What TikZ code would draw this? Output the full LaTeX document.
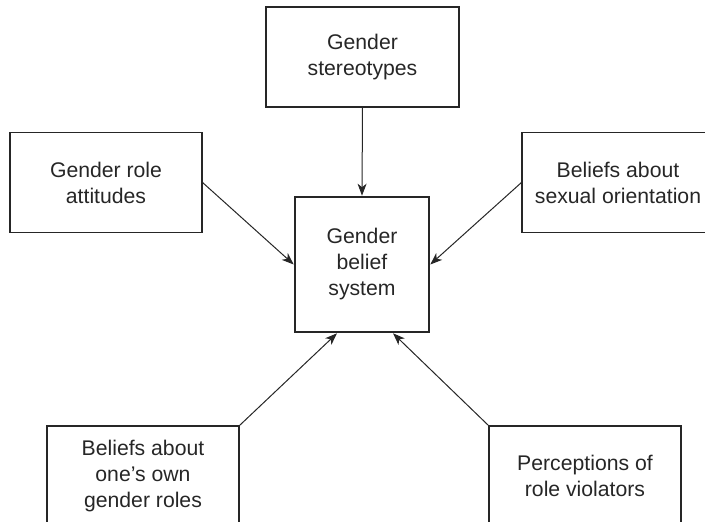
\documentclass[tikz,border=0pt]{standalone}
\usepackage{fontspec}
\setmainfont{Liberation Sans}
\usetikzlibrary{arrows.meta,calc}

\definecolor{ink}{HTML}{262626}

\tikzset{
  factor/.style={draw=ink, line width=1.1pt, minimum width=192pt, minimum height=100pt,
    align=center, text=ink, inner sep=0pt,
    font=\fontsize{21.2pt}{26pt}\selectfont},
  core/.style={factor, line width=2.6pt, minimum width=134pt, minimum height=135pt},
  link/.style={draw=ink, line width=1pt,
    -{Stealth[length=12pt,width=9pt,inset=3.5pt]}}
}

\begin{document}
\begin{tikzpicture}[x=1pt,y=-1pt]
  \useasboundingbox (0,0) rectangle (705,522);
  \clip (0,0) rectangle (705,522);

  % central construct
  \node[core] (belief) at (362,264.5) {Gender\\belief\\system};

  % surrounding components
  \node[factor, minimum width=193pt] (stereo) at (362.5,57) {Gender\\stereotypes};
  \node[factor] (attit) at (106,182.5) {Gender role\\attitudes};
  \node[factor] (sexor) at (618,182.5) {Beliefs about\\sexual orientation};
  \node[factor] (own) at (143,476) {Beliefs about\\one’s own\\gender roles};
  \node[factor] (viol) at (585,476) {Perceptions of\\role violators};

  % arrow targets on the lower edge of the central box
  \coordinate (inL) at ($(belief.south)+(-25,0)$);
  \coordinate (inR) at ($(belief.south)+(31,0)$);

  \draw[link] (stereo.south) -- (belief.north);
  \draw[link] (attit.east) -- (belief.west);
  \draw[link] (sexor.west) -- (belief.east);
  \draw[link] (own.north east) -- (inL);
  \draw[link] (viol.north west) -- (inR);
\end{tikzpicture}
\end{document}
